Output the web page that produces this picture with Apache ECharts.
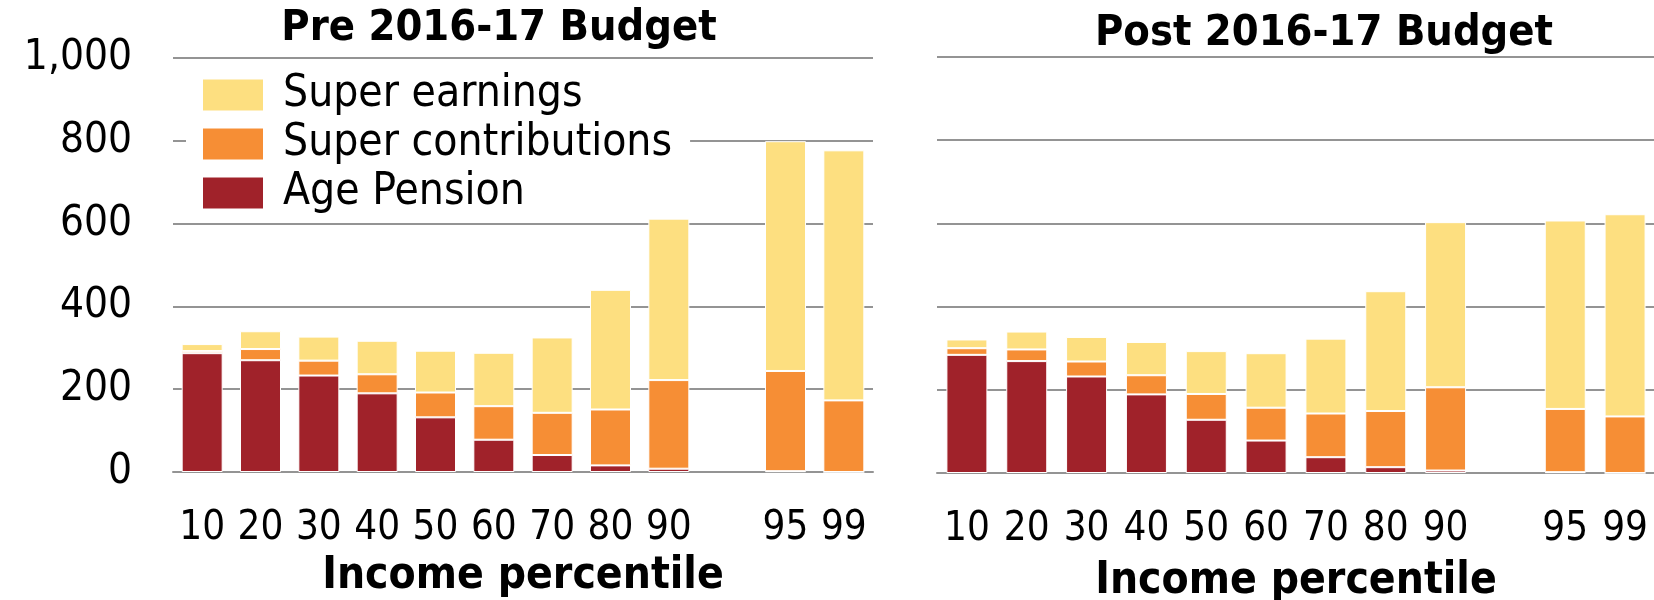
<!DOCTYPE html>
<html>
<head>
<meta charset="utf-8">
<script src="https://cdn.jsdelivr.net/npm/echarts@6/dist/echarts.min.js"></script>
<style>
  html, body { margin: 0; padding: 0; background: #fff; }
  #main { width: 1654px; height: 600px; }
</style>
</head>
<body>
<div id="main"></div>
<script>
// percentile groups, the empty one is the gap before 95
var categories = ['10', '20', '30', '40', '50', '60', '70', '80', '90', '', '95', '99'];

// Pre 2016-17 Budget
var preAgePension   = [287, 270, 233, 190, 132, 78, 41, 16, 8, null, 2, 0];
var preSuperContrib = [5, 27, 36, 46, 60, 81, 102, 135, 214, null, 242, 173];
var preSuperEarn    = [17, 43, 58, 81, 101, 129, 182, 289, 390, null, 555, 604];

// Post 2016-17 Budget
var postAgePension   = [284, 269, 232, 189, 128, 78, 38, 14, 6, null, 2, 0];
var postSuperContrib = [16, 28, 36, 46, 62, 79, 105, 135, 200, null, 152, 136];
var postSuperEarn    = [21, 43, 59, 80, 103, 131, 180, 288, 397, null, 453, 486];

var yTicks = [0, 200, 400, 600, 800, 1000];

var FONT = "'Liberation Sans Narrow', 'Arial Narrow', 'DejaVu Sans Condensed', sans-serif";
var RED = '#a0222a', ORANGE = '#f68e35', YELLOW = '#fddf80', GREY = '#949494';

var myChart = echarts.init(document.getElementById('main'));

function xAxisFor(idx, gap) {
    return {
        type: 'category',
        gridIndex: idx,
        data: categories,
        axisLine: {lineStyle: {color: GREY, width: 2}},
        axisTick: {length: 13, lineStyle: {color: GREY, width: 2}},
        axisLabel: {color: '#000', fontFamily: FONT, fontSize: 40, margin: 57, verticalAlign: 'middle', interval: 0},
        name: 'Income percentile',
        nameLocation: 'middle',
        nameGap: gap,
        nameTextStyle: {color: '#000', fontFamily: FONT, fontSize: 44, fontWeight: 'bold', verticalAlign: 'middle'}
    };
}

function yAxisFor(idx, showLabels) {
    return {
        type: 'value',
        gridIndex: idx,
        min: yTicks[0],
        max: yTicks[yTicks.length - 1],
        interval: 200,
        axisLine: {show: false},
        axisTick: {show: false},
        splitLine: {lineStyle: {color: GREY, width: 2}},
        axisLabel: {
            show: showLabels,
            color: '#000', fontFamily: FONT, fontSize: 42, margin: 41,
            formatter: function (v) { return v.toLocaleString('en-US'); }
        }
    };
}

function bar(name, data, color, idx) {
    return {
        name: name,
        type: 'bar',
        stack: 'total' + idx,
        xAxisIndex: idx,
        yAxisIndex: idx,
        barWidth: 41,
        data: data,
        itemStyle: {color: color, borderColor: '#fff', borderWidth: 1}
    };
}

var option = {
    animation: false,
    backgroundColor: '#fff',
    title: [
        {text: 'Pre 2016-17 Budget', left: 494, top: 2, textAlign: 'center',
         textStyle: {fontFamily: FONT, fontSize: 43, fontWeight: 'bold', color: '#000'}},
        {text: 'Post 2016-17 Budget', left: 1319, top: 7, textAlign: 'center',
         textStyle: {fontFamily: FONT, fontSize: 43, fontWeight: 'bold', color: '#000'}}
    ],
    legend: {
        orient: 'vertical',
        left: 186,
        top: 69,
        padding: [4, 18, 2, 15],
        backgroundColor: '#fff',
        itemWidth: 62,
        itemHeight: 33,
        itemGap: 5,
        icon: 'rect',
        data: ['Super earnings', 'Super contributions', 'Age Pension'],
        textStyle: {fontFamily: FONT, fontSize: 44, color: '#000', padding: [0, 0, 0, 14]}
    },
    grid: [
        {left: 173, top: 58, width: 700, height: 414, outerBoundsMode: 'none'},
        {left: 937, top: 57, width: 718, height: 416, outerBoundsMode: 'none'}
    ],
    xAxis: [xAxisFor(0, 105), xAxisFor(1, 109)],
    yAxis: [yAxisFor(0, true), yAxisFor(1, false)],
    series: [
        bar('Age Pension', preAgePension, RED, 0),
        bar('Super contributions', preSuperContrib, ORANGE, 0),
        bar('Super earnings', preSuperEarn, YELLOW, 0),
        bar('Age Pension', postAgePension, RED, 1),
        bar('Super contributions', postSuperContrib, ORANGE, 1),
        bar('Super earnings', postSuperEarn, YELLOW, 1)
    ]
};
myChart.setOption(option);
</script>
</body>
</html>
